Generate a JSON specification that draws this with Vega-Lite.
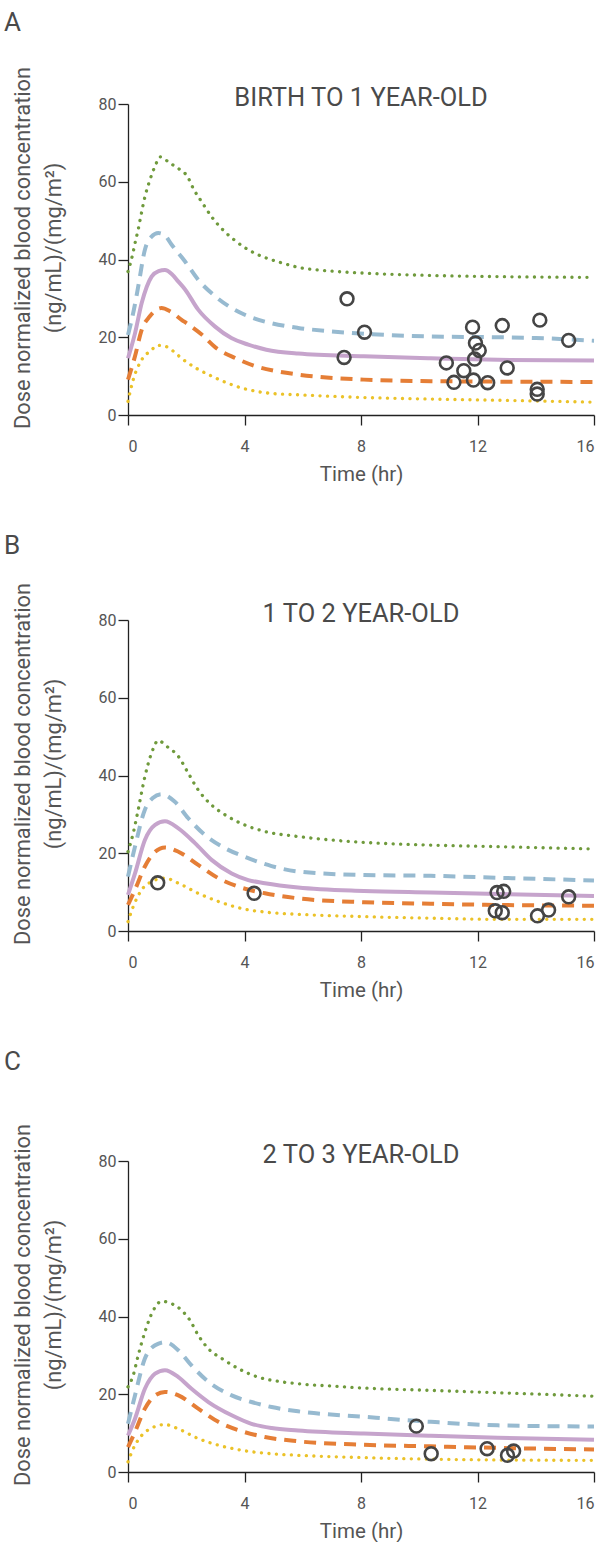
{
  "$schema": "https://vega.github.io/schema/vega-lite/v6.json",
  "padding": {"left": 4, "top": 10, "right": 0, "bottom": 0},
  "background": "white",
  "config": {
    "font": "Roboto",
    "view": {"stroke": null},
    "axis": {
      "grid": false,
      "domainColor": "#222222",
      "domainWidth": 1.3,
      "tickColor": "#222222",
      "tickWidth": 1.3,
      "tickSize": 10,
      "labelColor": "#555555",
      "labelFontSize": 16,
      "labelFont": "Roboto",
      "titleColor": "#555555",
      "titleFontSize": 20.5,
      "titleFont": "Roboto",
      "titleFontWeight": "normal"
    },
    "axisX": {"labelPadding": 13, "titlePadding": 10},
    "axisY": {"labelPadding": 2, "titlePadding": 33, "titleLineHeight": 31, "titleFontSize": 21.8, "titleY": 143.5},
    "title": {"color": "#4a4a4a", "fontWeight": "normal", "font": "Roboto"}
  },
  "datasets": {
    "curves": [
      {"panel":"A","series":"green","time":0,"conc":36.9},{"panel":"A","series":"green","time":0.15,"conc":41},{"panel":"A","series":"green","time":0.25,"conc":44.5},{"panel":"A","series":"green","time":0.35,"conc":47.7},{"panel":"A","series":"green","time":0.46,"conc":51.9},{"panel":"A","series":"green","time":0.58,"conc":56.1},{"panel":"A","series":"green","time":0.75,"conc":60.4},{"panel":"A","series":"green","time":0.95,"conc":64.4},{"panel":"A","series":"green","time":1.1,"conc":66.4},{"panel":"A","series":"green","time":1.44,"conc":64.8},{"panel":"A","series":"green","time":1.82,"conc":62.9},{"panel":"A","series":"green","time":2.01,"conc":61.7},{"panel":"A","series":"green","time":2.26,"conc":58.0},{"panel":"A","series":"green","time":2.56,"conc":54.5},{"panel":"A","series":"green","time":2.87,"conc":51.0},{"panel":"A","series":"green","time":3.25,"conc":47.7},{"panel":"A","series":"green","time":3.67,"conc":44.9},{"panel":"A","series":"green","time":4.13,"conc":42.5},{"panel":"A","series":"green","time":4.6,"conc":40.8},{"panel":"A","series":"green","time":5.2,"conc":39.3},{"panel":"A","series":"green","time":5.84,"conc":38.0},{"panel":"A","series":"green","time":7,"conc":37.0},{"panel":"A","series":"green","time":8.1,"conc":36.5},{"panel":"A","series":"green","time":10.4,"conc":35.9},{"panel":"A","series":"green","time":12.7,"conc":35.6},{"panel":"A","series":"green","time":16,"conc":35.4},
      {"panel":"A","series":"blue","time":0,"conc":20.6},{"panel":"A","series":"blue","time":0.2,"conc":27},{"panel":"A","series":"blue","time":0.35,"conc":33},{"panel":"A","series":"blue","time":0.58,"conc":42.5},{"panel":"A","series":"blue","time":0.8,"conc":45.8},{"panel":"A","series":"blue","time":1.04,"conc":46.8},{"panel":"A","series":"blue","time":1.25,"conc":46.3},{"panel":"A","series":"blue","time":1.5,"conc":43.8},{"panel":"A","series":"blue","time":1.96,"conc":39.5},{"panel":"A","series":"blue","time":2.41,"conc":34.8},{"panel":"A","series":"blue","time":3.0,"conc":30.5},{"panel":"A","series":"blue","time":3.56,"conc":27.5},{"panel":"A","series":"blue","time":4.13,"conc":25.4},{"panel":"A","series":"blue","time":4.93,"conc":23.6},{"panel":"A","series":"blue","time":5.84,"conc":22.4},{"panel":"A","series":"blue","time":7,"conc":21.5},{"panel":"A","series":"blue","time":8.1,"conc":20.9},{"panel":"A","series":"blue","time":10.4,"conc":20.2},{"panel":"A","series":"blue","time":12.7,"conc":20.0},{"panel":"A","series":"blue","time":14,"conc":19.8},{"panel":"A","series":"blue","time":16,"conc":19.1},
      {"panel":"A","series":"purple","time":0,"conc":14.6},{"panel":"A","series":"purple","time":0.24,"conc":21},{"panel":"A","series":"purple","time":0.47,"conc":28.8},{"panel":"A","series":"purple","time":0.81,"conc":35.6},{"panel":"A","series":"purple","time":1.05,"conc":37.0},{"panel":"A","series":"purple","time":1.27,"conc":37.3},{"panel":"A","series":"purple","time":1.5,"conc":36.3},{"panel":"A","series":"purple","time":1.73,"conc":34.3},{"panel":"A","series":"purple","time":1.96,"conc":32.3},{"panel":"A","series":"purple","time":2.41,"conc":27.1},{"panel":"A","series":"purple","time":2.98,"conc":22.8},{"panel":"A","series":"purple","time":3.55,"conc":19.8},{"panel":"A","series":"purple","time":4.13,"conc":18.1},{"panel":"A","series":"purple","time":4.75,"conc":16.8},{"panel":"A","series":"purple","time":5.84,"conc":15.8},{"panel":"A","series":"purple","time":8.1,"conc":15.1},{"panel":"A","series":"purple","time":10.4,"conc":14.6},{"panel":"A","series":"purple","time":12.7,"conc":14.2},{"panel":"A","series":"purple","time":16,"conc":14.0},
      {"panel":"A","series":"orange","time":0,"conc":9.1},{"panel":"A","series":"orange","time":0.24,"conc":15.1},{"panel":"A","series":"orange","time":0.47,"conc":21.9},{"panel":"A","series":"orange","time":0.75,"conc":25.4},{"panel":"A","series":"orange","time":1.0,"conc":27.2},{"panel":"A","series":"orange","time":1.15,"conc":27.5},{"panel":"A","series":"orange","time":1.44,"conc":26.7},{"panel":"A","series":"orange","time":1.84,"conc":24.5},{"panel":"A","series":"orange","time":2.07,"conc":23.3},{"panel":"A","series":"orange","time":2.53,"conc":20.7},{"panel":"A","series":"orange","time":3.0,"conc":17.4},{"panel":"A","series":"orange","time":3.7,"conc":14.6},{"panel":"A","series":"orange","time":4.36,"conc":12.6},{"panel":"A","series":"orange","time":5.0,"conc":11.4},{"panel":"A","series":"orange","time":5.84,"conc":10.4},{"panel":"A","series":"orange","time":8.1,"conc":9.1},{"panel":"A","series":"orange","time":10.4,"conc":8.7},{"panel":"A","series":"orange","time":16,"conc":8.5},
      {"panel":"A","series":"yellow","time":0,"conc":3.5},{"panel":"A","series":"yellow","time":0.18,"conc":9.1},{"panel":"A","series":"yellow","time":0.47,"conc":14.2},{"panel":"A","series":"yellow","time":0.79,"conc":16.6},{"panel":"A","series":"yellow","time":1.02,"conc":17.9},{"panel":"A","series":"yellow","time":1.27,"conc":17.7},{"panel":"A","series":"yellow","time":1.52,"conc":16.6},{"panel":"A","series":"yellow","time":1.87,"conc":14.4},{"panel":"A","series":"yellow","time":2.35,"conc":12.0},{"panel":"A","series":"yellow","time":2.87,"conc":10.0},{"panel":"A","series":"yellow","time":3.38,"conc":8.3},{"panel":"A","series":"yellow","time":3.93,"conc":6.9},{"panel":"A","series":"yellow","time":4.47,"conc":6.0},{"panel":"A","series":"yellow","time":5.0,"conc":5.5},{"panel":"A","series":"yellow","time":5.84,"conc":5.2},{"panel":"A","series":"yellow","time":8.1,"conc":4.5},{"panel":"A","series":"yellow","time":10.4,"conc":4.1},{"panel":"A","series":"yellow","time":12.7,"conc":3.8},{"panel":"A","series":"yellow","time":16,"conc":3.3},
      {"panel":"B","series":"green","time":0,"conc":20.4},{"panel":"B","series":"green","time":0.18,"conc":25.2},{"panel":"B","series":"green","time":0.35,"conc":31.2},{"panel":"B","series":"green","time":0.58,"conc":39.7},{"panel":"B","series":"green","time":0.81,"conc":45.8},{"panel":"B","series":"green","time":1.04,"conc":49.0},{"panel":"B","series":"green","time":1.33,"conc":47.5},{"panel":"B","series":"green","time":1.73,"conc":44.9},{"panel":"B","series":"green","time":2.07,"conc":40.6},{"panel":"B","series":"green","time":2.41,"conc":36.3},{"panel":"B","series":"green","time":2.87,"conc":32.4},{"panel":"B","series":"green","time":3.33,"conc":29.9},{"panel":"B","series":"green","time":4.0,"conc":27.3},{"panel":"B","series":"green","time":4.7,"conc":25.6},{"panel":"B","series":"green","time":5.84,"conc":24.3},{"panel":"B","series":"green","time":7,"conc":23.4},{"panel":"B","series":"green","time":8.1,"conc":22.8},{"panel":"B","series":"green","time":10.4,"conc":22.1},{"panel":"B","series":"green","time":12.7,"conc":21.7},{"panel":"B","series":"green","time":16,"conc":21.1},
      {"panel":"B","series":"blue","time":0,"conc":14.0},{"panel":"B","series":"blue","time":0.24,"conc":21.7},{"panel":"B","series":"blue","time":0.58,"conc":31.2},{"panel":"B","series":"blue","time":0.85,"conc":34.2},{"panel":"B","series":"blue","time":1.15,"conc":35.2},{"panel":"B","series":"blue","time":1.6,"conc":33.3},{"panel":"B","series":"blue","time":2.07,"conc":29.0},{"panel":"B","series":"blue","time":2.64,"conc":24.7},{"panel":"B","series":"blue","time":3.33,"conc":21.3},{"panel":"B","series":"blue","time":4.0,"conc":19.1},{"panel":"B","series":"blue","time":4.93,"conc":16.7},{"panel":"B","series":"blue","time":5.84,"conc":15.3},{"panel":"B","series":"blue","time":8.1,"conc":14.4},{"panel":"B","series":"blue","time":10.4,"conc":14.2},{"panel":"B","series":"blue","time":12.7,"conc":13.7},{"panel":"B","series":"blue","time":16,"conc":13.0},
      {"panel":"B","series":"purple","time":0,"conc":9.3},{"panel":"B","series":"purple","time":0.24,"conc":14.8},{"panel":"B","series":"purple","time":0.58,"conc":23.4},{"panel":"B","series":"purple","time":0.93,"conc":27.3},{"panel":"B","series":"purple","time":1.27,"conc":28.2},{"panel":"B","series":"purple","time":1.73,"conc":26.4},{"panel":"B","series":"purple","time":2.3,"conc":22.6},{"panel":"B","series":"purple","time":2.87,"conc":18.3},{"panel":"B","series":"purple","time":3.56,"conc":14.8},{"panel":"B","series":"purple","time":4.13,"conc":13.1},{"panel":"B","series":"purple","time":4.7,"conc":12.3},{"panel":"B","series":"purple","time":5.84,"conc":11.2},{"panel":"B","series":"purple","time":8.1,"conc":10.3},{"panel":"B","series":"purple","time":10.4,"conc":9.9},{"panel":"B","series":"purple","time":12.7,"conc":9.5},{"panel":"B","series":"purple","time":16,"conc":9.0},
      {"panel":"B","series":"orange","time":0,"conc":6.7},{"panel":"B","series":"orange","time":0.24,"conc":10.6},{"panel":"B","series":"orange","time":0.58,"conc":16.6},{"panel":"B","series":"orange","time":0.93,"conc":20.4},{"panel":"B","series":"orange","time":1.27,"conc":21.5},{"panel":"B","series":"orange","time":1.73,"conc":20.4},{"panel":"B","series":"orange","time":2.41,"conc":17.0},{"panel":"B","series":"orange","time":3.1,"conc":13.6},{"panel":"B","series":"orange","time":3.79,"conc":11.4},{"panel":"B","series":"orange","time":4.7,"conc":9.7},{"panel":"B","series":"orange","time":5.84,"conc":8.4},{"panel":"B","series":"orange","time":8.1,"conc":7.4},{"panel":"B","series":"orange","time":10.4,"conc":7.0},{"panel":"B","series":"orange","time":12.7,"conc":6.7},{"panel":"B","series":"orange","time":16,"conc":6.5},
      {"panel":"B","series":"yellow","time":0,"conc":2.4},{"panel":"B","series":"yellow","time":0.18,"conc":6.3},{"panel":"B","series":"yellow","time":0.47,"conc":10.6},{"panel":"B","series":"yellow","time":0.81,"conc":12.7},{"panel":"B","series":"yellow","time":1.27,"conc":13.6},{"panel":"B","series":"yellow","time":1.73,"conc":12.3},{"panel":"B","series":"yellow","time":2.41,"conc":9.7},{"panel":"B","series":"yellow","time":3.1,"conc":7.6},{"panel":"B","series":"yellow","time":3.9,"conc":5.8},{"panel":"B","series":"yellow","time":4.93,"conc":4.7},{"panel":"B","series":"yellow","time":5.84,"conc":4.3},{"panel":"B","series":"yellow","time":8.1,"conc":3.7},{"panel":"B","series":"yellow","time":10.4,"conc":3.3},{"panel":"B","series":"yellow","time":12.7,"conc":3.0},{"panel":"B","series":"yellow","time":16,"conc":3.0},
      {"panel":"C","series":"green","time":0,"conc":21.9},{"panel":"C","series":"green","time":0.18,"conc":24.9},{"panel":"C","series":"green","time":0.35,"conc":30.0},{"panel":"C","series":"green","time":0.58,"conc":36.0},{"panel":"C","series":"green","time":0.87,"conc":41.6},{"panel":"C","series":"green","time":1.15,"conc":43.9},{"panel":"C","series":"green","time":1.5,"conc":43.3},{"panel":"C","series":"green","time":1.84,"conc":41.6},{"panel":"C","series":"green","time":2.13,"conc":39.0},{"panel":"C","series":"green","time":2.41,"conc":35.2},{"panel":"C","series":"green","time":2.76,"conc":31.7},{"panel":"C","series":"green","time":3.22,"conc":29.2},{"panel":"C","series":"green","time":3.79,"conc":26.6},{"panel":"C","series":"green","time":4.47,"conc":24.4},{"panel":"C","series":"green","time":5.27,"conc":23.2},{"panel":"C","series":"green","time":5.84,"conc":22.7},{"panel":"C","series":"green","time":7,"conc":22.1},{"panel":"C","series":"green","time":8.1,"conc":21.6},{"panel":"C","series":"green","time":10.4,"conc":21.0},{"panel":"C","series":"green","time":12.7,"conc":20.4},{"panel":"C","series":"green","time":16,"conc":19.5},
      {"panel":"C","series":"blue","time":0,"conc":12.4},{"panel":"C","series":"blue","time":0.24,"conc":19.7},{"panel":"C","series":"blue","time":0.58,"conc":29.2},{"panel":"C","series":"blue","time":0.93,"conc":32.6},{"panel":"C","series":"blue","time":1.27,"conc":33.4},{"panel":"C","series":"blue","time":1.73,"conc":31.3},{"panel":"C","series":"blue","time":2.18,"conc":27.4},{"panel":"C","series":"blue","time":2.76,"conc":23.2},{"panel":"C","series":"blue","time":3.56,"conc":19.7},{"panel":"C","series":"blue","time":4.24,"conc":18.0},{"panel":"C","series":"blue","time":4.93,"conc":16.7},{"panel":"C","series":"blue","time":5.84,"conc":15.6},{"panel":"C","series":"blue","time":8.1,"conc":14.2},{"panel":"C","series":"blue","time":10.4,"conc":12.9},{"panel":"C","series":"blue","time":12.7,"conc":12.0},{"panel":"C","series":"blue","time":16,"conc":11.7},
      {"panel":"C","series":"purple","time":0,"conc":9.4},{"panel":"C","series":"purple","time":0.24,"conc":13.7},{"panel":"C","series":"purple","time":0.58,"conc":21.4},{"panel":"C","series":"purple","time":0.93,"conc":25.3},{"panel":"C","series":"purple","time":1.27,"conc":26.2},{"panel":"C","series":"purple","time":1.73,"conc":24.4},{"panel":"C","series":"purple","time":2.18,"conc":21.4},{"panel":"C","series":"purple","time":2.76,"conc":18.0},{"panel":"C","series":"purple","time":3.56,"conc":14.6},{"panel":"C","series":"purple","time":4.24,"conc":12.4},{"panel":"C","series":"purple","time":4.93,"conc":11.3},{"panel":"C","series":"purple","time":5.84,"conc":10.7},{"panel":"C","series":"purple","time":8.1,"conc":9.9},{"panel":"C","series":"purple","time":10.4,"conc":9.3},{"panel":"C","series":"purple","time":12.7,"conc":8.8},{"panel":"C","series":"purple","time":16,"conc":8.3},
      {"panel":"C","series":"orange","time":0,"conc":6.4},{"panel":"C","series":"orange","time":0.24,"conc":10.3},{"panel":"C","series":"orange","time":0.58,"conc":16.3},{"panel":"C","series":"orange","time":0.93,"conc":19.7},{"panel":"C","series":"orange","time":1.27,"conc":20.6},{"panel":"C","series":"orange","time":1.73,"conc":19.7},{"panel":"C","series":"orange","time":2.41,"conc":16.3},{"panel":"C","series":"orange","time":3.1,"conc":12.9},{"panel":"C","series":"orange","time":3.9,"conc":10.5},{"panel":"C","series":"orange","time":4.7,"conc":9.0},{"panel":"C","series":"orange","time":5.84,"conc":7.9},{"panel":"C","series":"orange","time":8.1,"conc":7.0},{"panel":"C","series":"orange","time":10.4,"conc":6.6},{"panel":"C","series":"orange","time":12.7,"conc":6.2},{"panel":"C","series":"orange","time":16,"conc":5.8},
      {"panel":"C","series":"yellow","time":0,"conc":2.6},{"panel":"C","series":"yellow","time":0.18,"conc":6.0},{"panel":"C","series":"yellow","time":0.47,"conc":9.4},{"panel":"C","series":"yellow","time":0.81,"conc":11.3},{"panel":"C","series":"yellow","time":1.27,"conc":12.2},{"panel":"C","series":"yellow","time":1.73,"conc":11.1},{"panel":"C","series":"yellow","time":2.41,"conc":8.6},{"panel":"C","series":"yellow","time":3.1,"conc":6.9},{"panel":"C","series":"yellow","time":3.9,"conc":5.6},{"panel":"C","series":"yellow","time":4.93,"conc":4.7},{"panel":"C","series":"yellow","time":5.84,"conc":4.3},{"panel":"C","series":"yellow","time":8.1,"conc":3.7},{"panel":"C","series":"yellow","time":10.4,"conc":3.3},{"panel":"C","series":"yellow","time":12.7,"conc":3.1},{"panel":"C","series":"yellow","time":16,"conc":3.0}
    ],
    "obs": [
      {"panel":"A","time":7.52,"conc":29.9},{"panel":"A","time":8.12,"conc":21.3},{"panel":"A","time":7.42,"conc":14.8},{"panel":"A","time":10.93,"conc":13.4},{"panel":"A","time":11.19,"conc":8.4},{"panel":"A","time":11.53,"conc":11.4},{"panel":"A","time":11.83,"conc":22.6},{"panel":"A","time":11.93,"conc":18.5},{"panel":"A","time":12.06,"conc":16.6},{"panel":"A","time":11.9,"conc":14.4},{"panel":"A","time":11.86,"conc":9.0},{"panel":"A","time":12.35,"conc":8.3},{"panel":"A","time":12.85,"conc":23.0},{"panel":"A","time":13.02,"conc":12.1},{"panel":"A","time":14.14,"conc":24.4},{"panel":"A","time":14.05,"conc":6.6},{"panel":"A","time":14.05,"conc":5.4},{"panel":"A","time":15.13,"conc":19.2},
      {"panel":"B","time":1.02,"conc":12.4},{"panel":"B","time":4.33,"conc":9.7},{"panel":"B","time":12.67,"conc":9.9},{"panel":"B","time":12.9,"conc":10.2},{"panel":"B","time":12.61,"conc":5.2},{"panel":"B","time":12.85,"conc":4.7},{"panel":"B","time":14.06,"conc":3.9},{"panel":"B","time":14.44,"conc":5.4},{"panel":"B","time":15.13,"conc":8.8},
      {"panel":"C","time":9.9,"conc":11.8},{"panel":"C","time":10.41,"conc":4.7},{"panel":"C","time":12.33,"conc":6.0},{"panel":"C","time":13.03,"conc":4.3},{"panel":"C","time":13.24,"conc":5.4}
    ]
  },
  "spacing": 48,
  "vconcat": [
    {
      "title": {"text": "A", "anchor": "start", "frame": "bounds", "fontSize": 26, "baseline": "alphabetic", "offset": 9, "dx": -8},
      "vconcat": [{
        "width": 466, "height": 311,
        "title": {"text": "BIRTH TO 1 YEAR-OLD", "anchor": "middle", "frame": "group", "fontSize": 25.5, "baseline": "alphabetic", "offset": -65},
        "data": {"name": "curves"},
        "encoding": {
          "x": {"field": "time", "type": "quantitative", "scale": {"domain": [0, 16], "nice": false}, "axis": {"values": [0, 4, 8, 12, 16], "title": "Time (hr)"}},
          "y": {"field": "conc", "type": "quantitative", "scale": {"domain": [0, 80], "nice": false}, "axis": {"values": [0, 20, 40, 60, 80], "title": ["Dose normalized blood concentration", "(ng/mL)/(mg/m²)"]}}
        },
        "layer": [
          {"transform": [{"filter": "datum.panel == 'A' && datum.series == 'green'"}], "mark": {"type": "line", "interpolate": "monotone", "color": "#6f9a3c", "strokeWidth": 3.3, "strokeDash": [0.1, 7.4], "strokeCap": "round"}},
          {"transform": [{"filter": "datum.panel == 'A' && datum.series == 'blue'"}], "mark": {"type": "line", "interpolate": "monotone", "color": "#97bad0", "strokeWidth": 4, "strokeDash": [12, 8]}},
          {"transform": [{"filter": "datum.panel == 'A' && datum.series == 'purple'"}], "mark": {"type": "line", "interpolate": "monotone", "color": "#c6a4cc", "strokeWidth": 4}},
          {"transform": [{"filter": "datum.panel == 'A' && datum.series == 'orange'"}], "mark": {"type": "line", "interpolate": "monotone", "color": "#e57e36", "strokeWidth": 4, "strokeDash": [12, 8]}},
          {"transform": [{"filter": "datum.panel == 'A' && datum.series == 'yellow'"}], "mark": {"type": "line", "interpolate": "monotone", "color": "#ebc228", "strokeWidth": 3.3, "strokeDash": [0.1, 7.4], "strokeCap": "round"}},
          {"data": {"name": "obs"}, "transform": [{"filter": "datum.panel == 'A'"}], "mark": {"type": "point", "shape": "circle", "filled": false, "size": 165, "strokeWidth": 2.6, "color": "#454545", "opacity": 1}}
        ]
      }]
    },
    {
      "title": {"text": "B", "anchor": "start", "frame": "bounds", "fontSize": 26, "baseline": "alphabetic", "offset": 2, "dx": -8},
      "vconcat": [{
        "width": 466, "height": 311,
        "title": {"text": "1 TO 2 YEAR-OLD", "anchor": "middle", "frame": "group", "fontSize": 25.5, "baseline": "alphabetic", "offset": -65},
        "data": {"name": "curves"},
        "encoding": {
          "x": {"field": "time", "type": "quantitative", "scale": {"domain": [0, 16], "nice": false}, "axis": {"values": [0, 4, 8, 12, 16], "title": "Time (hr)"}},
          "y": {"field": "conc", "type": "quantitative", "scale": {"domain": [0, 80], "nice": false}, "axis": {"values": [0, 20, 40, 60, 80], "title": ["Dose normalized blood concentration", "(ng/mL)/(mg/m²)"]}}
        },
        "layer": [
          {"transform": [{"filter": "datum.panel == 'B' && datum.series == 'green'"}], "mark": {"type": "line", "interpolate": "monotone", "color": "#6f9a3c", "strokeWidth": 3.3, "strokeDash": [0.1, 7.4], "strokeCap": "round"}},
          {"transform": [{"filter": "datum.panel == 'B' && datum.series == 'blue'"}], "mark": {"type": "line", "interpolate": "monotone", "color": "#97bad0", "strokeWidth": 4, "strokeDash": [12, 8]}},
          {"transform": [{"filter": "datum.panel == 'B' && datum.series == 'purple'"}], "mark": {"type": "line", "interpolate": "monotone", "color": "#c6a4cc", "strokeWidth": 4}},
          {"transform": [{"filter": "datum.panel == 'B' && datum.series == 'orange'"}], "mark": {"type": "line", "interpolate": "monotone", "color": "#e57e36", "strokeWidth": 4, "strokeDash": [12, 8]}},
          {"transform": [{"filter": "datum.panel == 'B' && datum.series == 'yellow'"}], "mark": {"type": "line", "interpolate": "monotone", "color": "#ebc228", "strokeWidth": 3.3, "strokeDash": [0.1, 7.4], "strokeCap": "round"}},
          {"data": {"name": "obs"}, "transform": [{"filter": "datum.panel == 'B'"}], "mark": {"type": "point", "shape": "circle", "filled": false, "size": 165, "strokeWidth": 2.6, "color": "#454545", "opacity": 1}}
        ]
      }]
    },
    {
      "title": {"text": "C", "anchor": "start", "frame": "bounds", "fontSize": 26, "baseline": "alphabetic", "offset": 27, "dx": -8},
      "vconcat": [{
        "width": 466, "height": 311,
        "title": {"text": "2 TO 3 YEAR-OLD", "anchor": "middle", "frame": "group", "fontSize": 25.5, "baseline": "alphabetic", "offset": -65},
        "data": {"name": "curves"},
        "encoding": {
          "x": {"field": "time", "type": "quantitative", "scale": {"domain": [0, 16], "nice": false}, "axis": {"values": [0, 4, 8, 12, 16], "title": "Time (hr)"}},
          "y": {"field": "conc", "type": "quantitative", "scale": {"domain": [0, 80], "nice": false}, "axis": {"values": [0, 20, 40, 60, 80], "title": ["Dose normalized blood concentration", "(ng/mL)/(mg/m²)"]}}
        },
        "layer": [
          {"transform": [{"filter": "datum.panel == 'C' && datum.series == 'green'"}], "mark": {"type": "line", "interpolate": "monotone", "color": "#6f9a3c", "strokeWidth": 3.3, "strokeDash": [0.1, 7.4], "strokeCap": "round"}},
          {"transform": [{"filter": "datum.panel == 'C' && datum.series == 'blue'"}], "mark": {"type": "line", "interpolate": "monotone", "color": "#97bad0", "strokeWidth": 4, "strokeDash": [12, 8]}},
          {"transform": [{"filter": "datum.panel == 'C' && datum.series == 'purple'"}], "mark": {"type": "line", "interpolate": "monotone", "color": "#c6a4cc", "strokeWidth": 4}},
          {"transform": [{"filter": "datum.panel == 'C' && datum.series == 'orange'"}], "mark": {"type": "line", "interpolate": "monotone", "color": "#e57e36", "strokeWidth": 4, "strokeDash": [12, 8]}},
          {"transform": [{"filter": "datum.panel == 'C' && datum.series == 'yellow'"}], "mark": {"type": "line", "interpolate": "monotone", "color": "#ebc228", "strokeWidth": 3.3, "strokeDash": [0.1, 7.4], "strokeCap": "round"}},
          {"data": {"name": "obs"}, "transform": [{"filter": "datum.panel == 'C'"}], "mark": {"type": "point", "shape": "circle", "filled": false, "size": 165, "strokeWidth": 2.6, "color": "#454545", "opacity": 1}}
        ]
      }]
    }
  ]
}
